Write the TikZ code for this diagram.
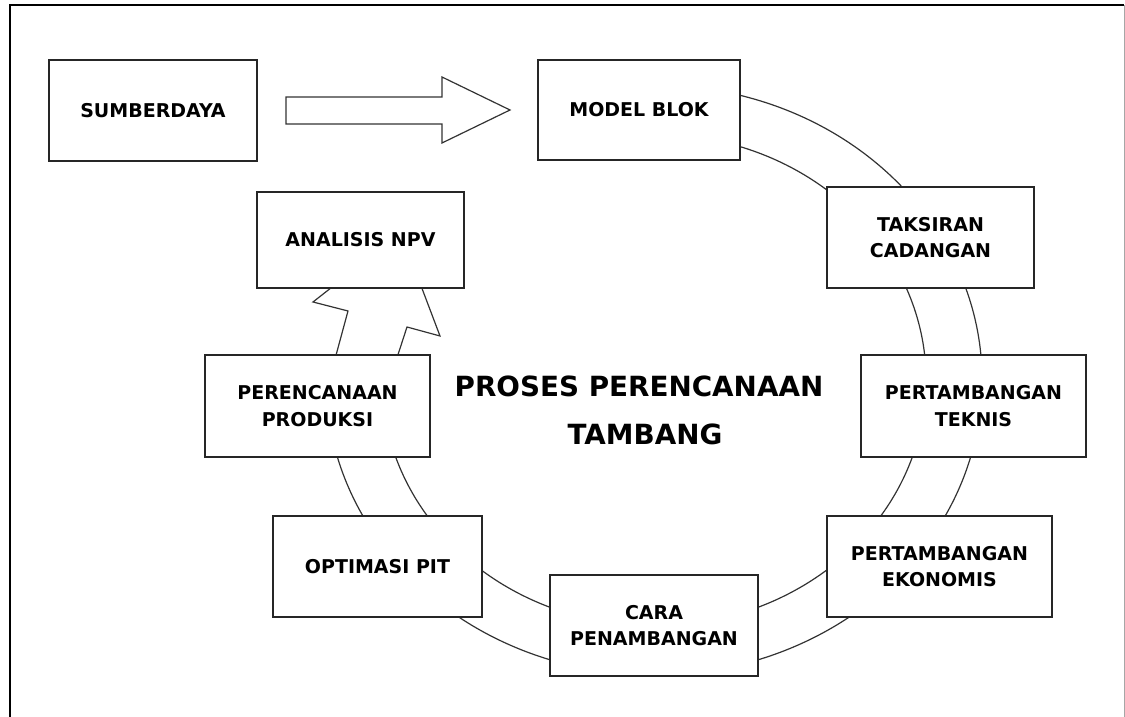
\documentclass[tikz,border=0pt]{standalone}
\usepackage{fontspec}
\setmainfont{DejaVu Sans}
\begin{document}
\begin{tikzpicture}[x=1pt,y=1pt,
  stepbox/.style={draw=black!85, line width=1.2pt, fill=white, inner sep=0pt,
    align=center, font=\bfseries\fontsize{19}{26.5}\selectfont},
  ringline/.style={draw=black!80, line width=1.2pt},
  bigarrow/.style={draw=black!80, line width=1.2pt, fill=white, line join=miter},
  titletext/.style={inner sep=0pt, anchor=base, font=\bfseries\fontsize{27.8}{48}\selectfont}
]
\useasboundingbox (0,0) rectangle (1125,717);
% frame
\draw[line width=2pt, black] (10,0) -- (10,712) -- (1124,712);
\draw[line width=0.8pt, black!35] (1124,712) -- (1124,0);

% ring (two elliptic arcs)
\coordinate (ringc) at (654,337);
\draw[ringline] ([shift={(78:328pt and 295pt)}]ringc) arc[start angle=78, end angle=-170, x radius=328pt, y radius=295pt];
\draw[ringline] ([shift={(76:272pt and 246pt)}]ringc) arc[start angle=76, end angle=-170, x radius=272pt, y radius=246pt];

% zigzag arrow from PERENCANAAN PRODUKSI to ANALISIS NPV
\draw[bigarrow] (332,347) -- (348,406) -- (313,415) -- (401,484) -- (440,381) -- (407,390) -- (393,347) -- cycle;

% block arrow from SUMBERDAYA to MODEL BLOK
\draw[bigarrow] (286,620) -- (442,620) -- (442,640) -- (510,607) -- (442,574) -- (442,593) -- (286,593) -- cycle;

% boxes
\node[stepbox, minimum width=208pt, minimum height=101pt] (sumber) at (153,606.5) {SUMBERDAYA};
\node[stepbox, minimum width=202pt, minimum height=100pt] (model) at (639,607) {MODEL BLOK};
\node[stepbox, minimum width=207pt, minimum height=96pt] (npv) at (360.5,477) {ANALISIS NPV};
\node[stepbox, minimum width=207pt, minimum height=101pt] (taksiran) at (930.5,479.5) {TAKSIRAN\\CADANGAN};
\node[stepbox, minimum width=225pt, minimum height=102pt] (produksi) at (317.5,311) {PERENCANAAN\\PRODUKSI};
\node[stepbox, minimum width=225pt, minimum height=102pt] (teknis) at (973.5,311) {PERTAMBANGAN\\TEKNIS};
\node[stepbox, minimum width=209pt, minimum height=101pt] (pit) at (377.5,150.5) {OPTIMASI PIT};
\node[stepbox, minimum width=225pt, minimum height=101pt] (ekonomis) at (939.5,150.5) {PERTAMBANGAN\\EKONOMIS};
\node[stepbox, minimum width=208pt, minimum height=101pt] (cara) at (654,91.5) {CARA\\PENAMBANGAN};

% title
\node[titletext] (title1) at (639,320) {PROSES PERENCANAAN};
\node[titletext] (title2) at (645,272) {TAMBANG};
\end{tikzpicture}
\end{document}
